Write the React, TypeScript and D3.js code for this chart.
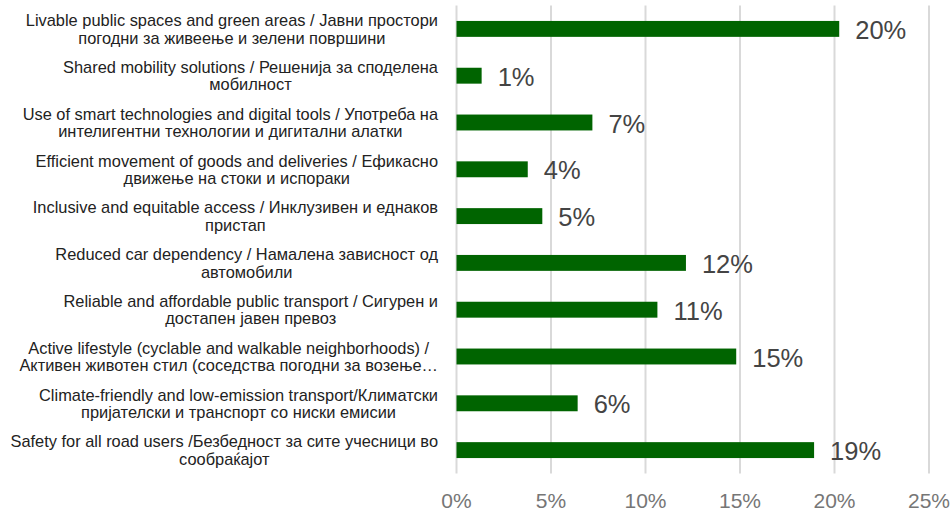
import React, { useMemo } from "react";
import * as d3 from "d3";

const labelLine1 = [
  "Livable public spaces and green areas / Јавни простори",
  "Shared mobility solutions / Решенија за споделена",
  "Use of smart technologies and digital tools / Употреба на",
  "Efficient movement of goods and deliveries / Ефикасно",
  "Inclusive and equitable access / Инклузивен и еднаков",
  "Reduced car dependency / Намалена зависност од",
  "Reliable and affordable public transport / Сигурен и",
  "Active lifestyle (cyclable and walkable neighborhoods) /",
  "Climate-friendly and low-emission transport/Климатски",
  "Safety for all road users /Безбедност за сите учесници во",
];
const labelLine2 = [
  "погодни за живеење и зелени површини",
  "мобилност",
  "интелигентни технологии и дигитални алатки",
  "движење на стоки и испораки",
  "пристап",
  "автомобили",
  "достапен јавен превоз",
  "Активен животен стил (соседства погодни за возење…",
  "пријателски и транспорт со ниски емисии",
  "сообраќајот",
];
const values = [20.25, 1.33, 7.19, 3.77, 4.54, 12.14, 10.63, 14.8, 6.41, 18.92];
const ticks = [0, 5, 10, 15, 20, 25];

const W = 952;
const H = 513;
const FONT = "'Liberation Sans', Arial, sans-serif";
const CAT_SIZE = 16.4;

export default function App() {
  const x = d3.scaleLinear().domain([0, 25]).range([456.5, 929]);
  const idx = d3.range(values.length);
  const y = d3
    .scaleBand<number>()
    .domain(idx)
    .range([5.5, 473.5])
    .paddingInner(0.66)
    .paddingOuter(0.33);

  const measure = useMemo(() => {
    const c = document.createElement("canvas").getContext("2d")!;
    c.font = `${CAT_SIZE}px ${FONT}`;
    return (s: string) => c.measureText(s).width;
  }, []);

  const labelRight = 438;

  return (
    <svg
      width={W}
      height={H}
      style={{ position: "absolute", left: 0, top: 0, background: "#fff" }}
      fontFamily={FONT}
    >
      <rect width={W} height={H} fill="#fff" />
      {ticks.map((t) => (
        <g key={t}>
          <line
            x1={x(t)}
            x2={x(t)}
            y1={5.5}
            y2={473.5}
            stroke="#d9d9d9"
            strokeWidth={2}
          />
          <text
            x={x(t)}
            y={500}
            textAnchor="middle"
            dominantBaseline="central"
            fontSize={21}
            fill="#767676"
          >
            {t}%
          </text>
        </g>
      ))}
      {idx.map((i) => {
        const yc = y(i)! + y.bandwidth() / 2;
        const w = Math.max(measure(labelLine1[i]), measure(labelLine2[i]));
        const cx = labelRight - w / 2;
        return (
          <g key={i}>
            <rect
              x={x(0)}
              y={y(i)}
              width={x(values[i]) - x(0)}
              height={y.bandwidth()}
              fill="#006400"
            />
            <text
              x={x(values[i]) + 16}
              y={yc + 1}
              dominantBaseline="central"
              fontSize={25.5}
              fill="#444444"
            >
              {d3.format(".0f")(values[i])}%
            </text>
            <text
              x={cx}
              y={yc - 8.7}
              textAnchor="middle"
              dominantBaseline="central"
              fontSize={CAT_SIZE}
              fill="#222222"
            >
              {labelLine1[i]}
            </text>
            <text
              x={cx}
              y={yc + 8.7}
              textAnchor="middle"
              dominantBaseline="central"
              fontSize={CAT_SIZE}
              fill="#222222"
            >
              {labelLine2[i]}
            </text>
          </g>
        );
      })}
    </svg>
  );
}
